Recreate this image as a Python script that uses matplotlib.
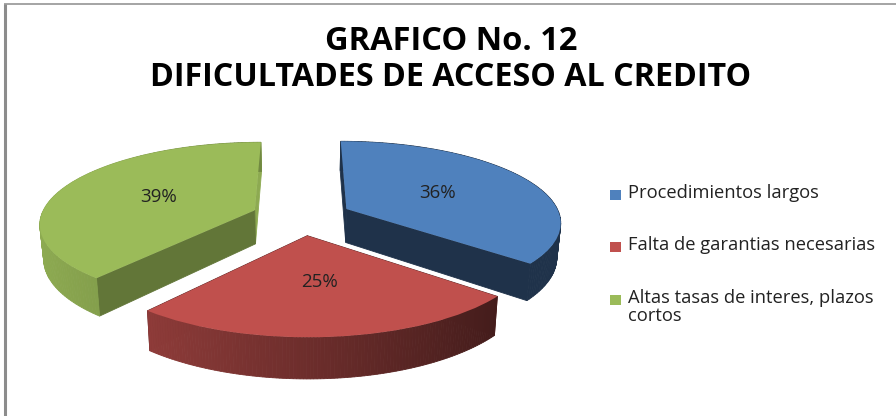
import numpy as np
import matplotlib
matplotlib.use("Agg")
import matplotlib.pyplot as plt
from matplotlib.colors import to_rgb
from matplotlib.patches import Rectangle
from matplotlib.transforms import Transform

# chart data
title_lines = ["GRAFICO No. 12", "DIFICULTADES DE ACCESO AL CREDITO"]
categories = ["Procedimientos largos", "Falta de garantias necesarias",
              "Altas tasas de interes, plazos\ncortos"]
values = [36, 25, 39]
colors = ["#4F81BD", "#C0504D", "#9BBB59"]

# shading of the sides, left/right of the rim and the two cut faces
rim_shade = [(0.39, 0.39), (0.84, 0.29), (0.92, 0.54)]
wall_shade = [(0.39, 0.39), (0.50, 0.50), (0.91, 0.63)]

X0, Y0, A, B, K, H = 302.5, 216.7, 214.0, 80.0, 0.15, 34.0


def project(x, y, z=0.0):
    # pie plane to pixels, near side bigger than far side
    w = 1 + K * y
    return X0 + A * x / w * (1 - 0.015 * z), Y0 - B * y / w + H * z / w


class PiePerspective(Transform):
    input_dims = 2
    output_dims = 2
    is_affine = False

    def transform_non_affine(self, values):
        px, py = project(values[:, 0], values[:, 1])
        return np.column_stack([px, py])


def shaded(color, s):
    return tuple(c * s for c in to_rgb(color))


def quad(p0, p1, color, zorder):
    a = project(p0[0], p0[1])
    b = project(p1[0], p1[1])
    c = project(p1[0], p1[1], 1.0)
    d = project(p0[0], p0[1], 1.0)
    ax.fill([a[0], b[0], c[0], d[0]], [a[1], b[1], c[1], d[1]], color=color,
            lw=0.6, zorder=zorder)


plt.rcParams["font.family"] = ["Open Sans", "DejaVu Sans"]
fig = plt.figure(figsize=(8.96, 4.16), dpi=100)
ax = fig.add_axes([0, 0, 1, 1])

wedges, texts, autotexts = ax.pie(values, colors=colors, startangle=90, counterclock=False,
                                  explode=[0.23, 0.23, 0.24], autopct="%1.0f%%",
                                  pctdistance=0.5, labeldistance=None,
                                  textprops={"fontsize": 13.5, "color": "#222222"})
ax.set_aspect("auto")
ax.set_xlim(0, 896)
ax.set_ylim(416, 0)
ax.axis("off")

persp = PiePerspective() + ax.transData
for i, wedge in enumerate(wedges):
    wedge.set_transform(persp)
    wedge.set_zorder(5)
    cx, cy = wedge.center
    t = np.radians(np.linspace(wedge.theta1, wedge.theta2, 120))
    rx = cx + np.cos(t)
    ry = cy + np.sin(t)
    # cut faces
    quad((cx, cy), (rx[0], ry[0]), shaded(colors[i], wall_shade[i][0]), 2)
    quad((cx, cy), (rx[-1], ry[-1]), shaded(colors[i], wall_shade[i][1]), 2)
    # outer rim
    for j in range(len(t) - 1):
        f = (np.cos(t[j]) + 1) / 2
        s = rim_shade[i][0] + (rim_shade[i][1] - rim_shade[i][0]) * f
        quad((rx[j], ry[j]), (rx[j + 1], ry[j + 1]), shaded(colors[i], s), 3)

for label in autotexts:
    px, py = project(*label.get_position())
    label.set_position((px, py))
    label.set_zorder(6)

# title
ax.text(451, 49.5, title_lines[0], ha="center", va="baseline", fontsize=23.5, fontweight="bold", color="black")
ax.text(451, 86, title_lines[1], ha="center", va="baseline", fontsize=23.2, fontweight="bold", color="black")

# legend
legend_y = [195, 247, 300]
for y, name, color in zip(legend_y, categories, colors):
    ax.add_patch(Rectangle((610, y - 5), 11, 10, color=color, lw=0))
    ax.text(628, y - 11, name, ha="left", va="top", fontsize=13.2, color="#222222", linespacing=1.0)

# chart frame
ax.plot([4.5, 4.5], [4, 416], color="#8C8C8C", lw=2.2, solid_capstyle="butt")
ax.plot([3.5, 896], [4, 4], color="#8C8C8C", lw=1.1, solid_capstyle="butt")

fig.savefig("out.png", dpi=100)
